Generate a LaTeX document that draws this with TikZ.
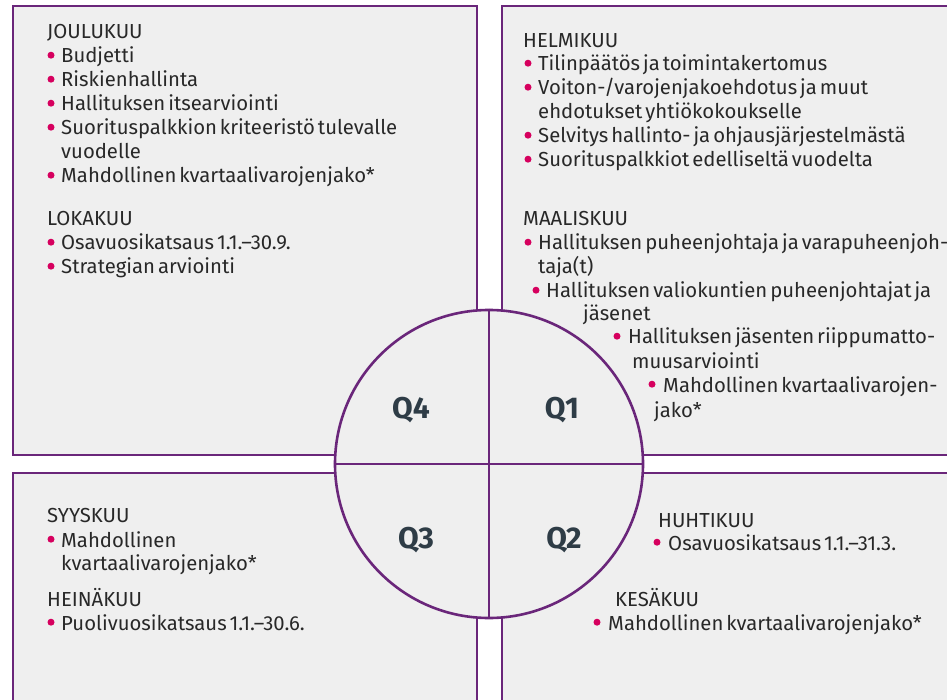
\documentclass[tikz,border=0pt]{standalone}
\usepackage{fontspec}
\setmainfont{Fira Sans}[WordSpace={0.55}]
\definecolor{purp}{RGB}{106,38,122}
\definecolor{boxfill}{RGB}{239,239,239}
\definecolor{bulc}{RGB}{214,0,94}
\definecolor{textc}{RGB}{40,40,40}
\definecolor{qc}{RGB}{46,60,70}
\tikzset{
  panel/.style={draw=purp, fill=boxfill, line width=2.6pt},
  txt/.style={anchor=base west, inner sep=0pt, text=textc, font=\fontsize{20.3}{24}\selectfont},
  bul/.style={circle, fill=bulc, inner sep=0pt, minimum size=7pt},
  qlab/.style={anchor=base, inner sep=0pt, text=qc, font=\fontsize{30}{30}\selectfont\bfseries}
}
% bullet item: name, bullet x, text x, baseline y, text
\newcommand\bitem[5]{\node[bul] (#1b) at (#2,#4-7.8) {}; \node[txt] (#1) at (#3,#4) {#5};}
\begin{document}
\begin{tikzpicture}[x=1pt,y=-1pt]
\useasboundingbox (0,0) rectangle (947,700);
\fill[white] (0,0) rectangle (947,700);
\clip (0,0) rectangle (947,700);
% panels
\draw[panel] (13,6) rectangle (477,455);
\draw[panel] (502,6) rectangle (965,455);
\draw[panel] (13,473) rectangle (477,720);
\draw[panel] (502,473) rectangle (965,720);
% circle
\node[circle, draw=purp, fill=boxfill, line width=2.6pt, minimum size=308pt, inner sep=0pt] (circ) at (489,464) {};
\draw[draw=purp, line width=2.6pt] (circ.north) -- (circ.south);
\draw[draw=purp, line width=2.6pt] (circ.west) -- (circ.east);
\node[qlab] (q4) at (411,418) {Q4};
\node[qlab] (q1) at (562,418) {Q1};
\node[qlab] (q3) at (416,548) {Q3};
\node[qlab] (q2) at (564,548) {Q2};
% top left
\node[txt] (h1) at (47,39) {JOULUKUU};
\bitem{a1}{51}{61}{63}{Budjetti}
\bitem{a2}{51}{61}{87}{Riskienhallinta}
\bitem{a3}{51}{61}{111}{Hallituksen itsearviointi}
\bitem{a4}{51}{61}{135}{Suorituspalkkion kriteeristö tulevalle}
\node[txt] (a4b2) at (61,159) {vuodelle};
\bitem{a5}{51}{61}{183}{Mahdollinen kvartaalivarojenjako*}
\node[txt] (h2) at (47,226) {LOKAKUU};
\bitem{a6}{51}{61}{250}{Osavuosikatsaus 1.1.–30.9.}
\bitem{a7}{51}{61}{274}{Strategian arviointi}
% top right
\node[txt] (h3) at (523,48) {HELMIKUU};
\bitem{b1}{528}{538}{71}{Tilinpäätös ja toimintakertomus}
\bitem{b2}{528}{538}{95}{Voiton-/varojenjakoehdotus ja muut}
\node[txt] (b2c) at (538,119) {ehdotukset yhtiökokoukselle};
\bitem{b3}{528}{538}{143}{Selvitys hallinto- ja ohjausjärjestelmästä}
\bitem{b4}{528}{538}{167}{Suorituspalkkiot edelliseltä vuodelta}
\node[txt] (h4) at (523,226) {MAALISKUU};
\bitem{b5}{528}{538}{250}{Hallituksen puheenjohtaja ja varapuheenjoh-}
\node[txt] (b5c) at (538,274) {taja(t)};
\bitem{b6}{536}{546}{298}{Hallituksen valiokuntien puheenjohtajat ja}
\node[txt] (b6c) at (583,320) {jäsenet};
\bitem{b7}{617}{628}{344}{Hallituksen jäsenten riippumatto-}
\node[txt] (b7c) at (632,368) {muusarviointi};
\bitem{b8}{652}{663}{392}{Mahdollinen kvartaalivarojen-}
\node[txt] (b8c) at (654,417) {jako*};
% bottom left
\node[txt] (h5) at (47,522) {SYYSKUU};
\bitem{c1}{51}{61}{547}{Mahdollinen}
\node[txt] (c1c) at (61,570) {kvartaalivarojenjako*};
\node[txt] (h6) at (47,606) {HEINÄKUU};
\bitem{c2}{51}{61}{630}{Puolivuosikatsaus 1.1.–30.6.}
% bottom right
\node[txt] (h7) at (658,527) {HUHTIKUU};
\bitem{d1}{657}{668}{550}{Osavuosikatsaus 1.1.–31.3.}
\node[txt] (h8) at (615,606) {KESÄKUU};
\bitem{d2}{597}{608}{630}{Mahdollinen kvartaalivarojenjako*}
\end{tikzpicture}
\end{document}
